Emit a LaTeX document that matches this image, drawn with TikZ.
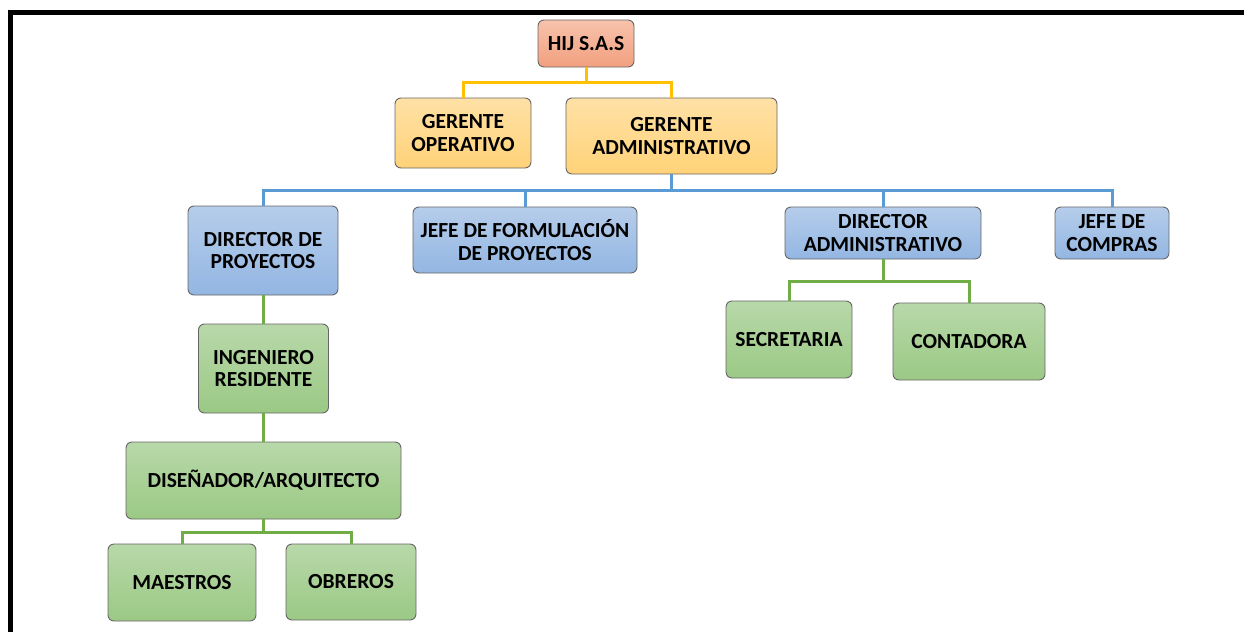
\documentclass[tikz,border=0pt]{standalone}
\usepackage{fontspec}
\setmainfont{Carlito}
\usepackage{tikz}
\usetikzlibrary{positioning}
\definecolor{lnblue}{HTML}{5B9BD5}
\definecolor{lngreen}{HTML}{70AD47}
\definecolor{lngold}{HTML}{FFC000}
\definecolor{redtop}{HTML}{F7C2AC}
\definecolor{redbot}{HTML}{F2A07F}
\definecolor{yeltop}{HTML}{FFE1A6}
\definecolor{yelbot}{HTML}{FFD278}
\definecolor{bluetop}{HTML}{B6CDEB}
\definecolor{bluebot}{HTML}{93B6E2}
\definecolor{grntop}{HTML}{B8D8A9}
\definecolor{grnbot}{HTML}{9BC985}

\begin{document}
\begin{tikzpicture}[x=1pt, y=-1pt,
    box/.style={draw=black!60, line width=0.9pt, rounded corners=6pt, align=center,
      inner sep=2pt, font=\fontsize{21.5}{22.5}\selectfont\bfseries},
    redbox/.style={box, top color=redtop, bottom color=redbot},
    yelbox/.style={box, top color=yeltop, bottom color=yelbot},
    bluebox/.style={box, top color=bluetop, bottom color=bluebot},
    grnbox/.style={box, top color=grntop, bottom color=grnbot},
    link/.style={line width=3pt}]
  \useasboundingbox (0,0) rectangle (1244,632);
  % frame
  \draw[line width=5pt] (10.5,632) -- (10.5,12) -- (1244,12);
  % nodes
  \node[redbox, minimum width=96, minimum height=47] (hij) at (586,43.5) {HIJ S.A.S};
  \node[yelbox, minimum width=136, minimum height=70] (gop) at (463,133) {GERENTE\\OPERATIVO};
  \node[yelbox, minimum width=211, minimum height=76] (gad) at (671.5,136) {GERENTE\\ADMINISTRATIVO};
  \node[bluebox, minimum width=150, minimum height=89] (dpr) at (263,250.5) {DIRECTOR DE\\PROYECTOS};
  \node[bluebox, minimum width=224, minimum height=66] (jfp) at (525,240) {JEFE DE FORMULACIÓN\\DE PROYECTOS};
  \node[bluebox, minimum width=196, minimum height=52] (dad) at (883,233) {DIRECTOR\\ADMINISTRATIVO};
  \node[bluebox, minimum width=114, minimum height=52] (jco) at (1112,233) {JEFE DE\\COMPRAS};
  \node[grnbox, minimum width=126, minimum height=77] (sec) at (789,339.5) {SECRETARIA};
  \node[grnbox, minimum width=152, minimum height=77] (con) at (969,341.5) {CONTADORA};
  \node[grnbox, minimum width=130, minimum height=89] (ing) at (263.5,368.5) {INGENIERO\\RESIDENTE};
  \node[grnbox, minimum width=275, minimum height=77] (dis) at (263.5,480.5) {DISEÑADOR/ARQUITECTO};
  \node[grnbox, minimum width=148, minimum height=77] (mae) at (182,582.5) {MAESTROS};
  \node[grnbox, minimum width=130, minimum height=76] (obr) at (351,582) {OBREROS};
  % connectors
  \draw[link, lngold] (hij.south) -- (hij.south |- 0,82);
  \draw[link, lngold] (gop.north) |- (gad.north |- 0,82) -- (gad.north);
  \draw[link, lnblue] (gad.south) -- (gad.south |- 0,190);
  \draw[link, lnblue] (dpr.north) |- (jco.north |- 0,190) -- (jco.north);
  \draw[link, lnblue] (jfp.north) -- (jfp.north |- 0,190);
  \draw[link, lnblue] (dad.north) -- (dad.north |- 0,190);
  \draw[link, lngreen] (dad.south) -- (dad.south |- 0,281);
  \draw[link, lngreen] (sec.north) |- (con.north |- 0,281) -- (con.north);
  \draw[link, lngreen] (dpr.south) -- (dpr.south |- ing.north);
  \draw[link, lngreen] (ing.south) -- (dis.north);
  \draw[link, lngreen] (dis.south) -- (dis.south |- 0,532);
  \draw[link, lngreen] (mae.north) |- (obr.north |- 0,532) -- (obr.north);
\end{tikzpicture}
\end{document}
